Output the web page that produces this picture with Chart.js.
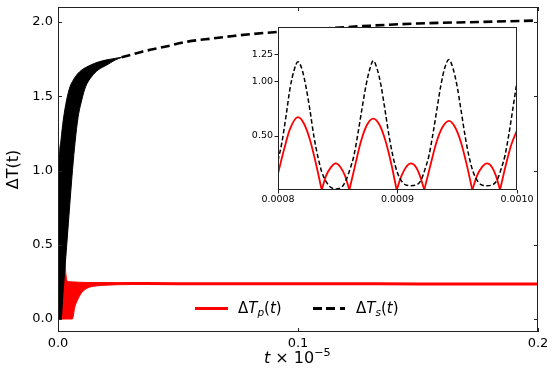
<!DOCTYPE html>
<html>
<head>
<meta charset="utf-8">
<script src="https://cdn.jsdelivr.net/npm/chart.js@4.4.1/dist/chart.umd.min.js"></script>
<style>
    html, body { margin: 0; padding: 0; background: #fff; }
    #wrap { position: relative; width: 556px; height: 379px; font-family: 'DejaVu Sans', sans-serif; color: #000; }
    #main { position: absolute; left: 0; top: 0; }
    #insetBox { position: absolute; left: 230px; top: 17px; width: 320px; height: 195px; }
    .txt { position: absolute; white-space: nowrap; line-height: 18px; }
    .lg { font-size: 15px; top: 299px; }
    .lg sub { font-size: 0.7em; vertical-align: -0.3em; line-height: 0; }
    .xt { font-size: 16px; left: 264px; top: 349px; }
    .xt sup { font-size: 0.7em; vertical-align: 0.6em; line-height: 0; }
    .swatch { position: absolute; top: 307px; height: 3px; }
</style>
</head>
<body>
<div id="wrap">
    <canvas id="main" width="556" height="379"></canvas>
    <div id="insetBox"><canvas id="inset" width="320" height="195"></canvas></div>

    <div class="swatch" style="left:195px;width:33px;background:#ff0000;"></div>
    <div class="txt lg" style="left:238px;">Δ<i>T</i><sub><i>p</i></sub>(<i>t</i>)</div>
    <div class="swatch" style="left:313px;width:32px;background:repeating-linear-gradient(to right,#000 0 9px,transparent 9px 13.5px);"></div>
    <div class="txt lg" style="left:356px;">Δ<i>T</i><sub><i>s</i></sub>(<i>t</i>)</div>

    <div class="txt xt"><i>t</i> × 10<sup>−5</sup></div>
</div>

<script>
    // ─── DATA ───
    const mainXTicks = [0, 0.1, 0.2];
    const mainYTicks = [0, 0.5, 1.0, 1.5, 2.0];
    const insetXTicks = [0.0008, 0.0009, 0.0010];
    const insetYTicks = [0.5, 1.0, 1.25];

    // ΔTs : fast oscillation band (upper / lower envelope), then the slow part
    const sBandT = [0, 0.0004, 0.00125, 0.0022, 0.0036, 0.005, 0.0064, 0.0082, 0.0099, 0.0115, 0.014, 0.0167, 0.0203, 0.0238, 0.0265];
    const sBandUpper = [0, 0.94, 1.205, 1.34, 1.475, 1.564, 1.61, 1.652, 1.677, 1.693, 1.713, 1.73, 1.745, 1.755, 1.762];
    const sBandLower = [0, 0, 0, 0.2, 0.49, 0.79, 1.07, 1.34, 1.475, 1.564, 1.632, 1.677, 1.71, 1.744, 1.762];
    const sTailT = [0.0265, 0.035, 0.045, 0.054, 0.065, 0.073, 0.0925, 0.11, 0.13, 0.15, 0.175, 0.2];
    const sTail = [1.762, 1.80, 1.835, 1.868, 1.89, 1.906, 1.935, 1.955, 1.975, 1.99, 2.0, 2.01];

    // ΔTp : band, then flat part
    const pBandT = [0, 0.0006, 0.001, 0.0025, 0.0033, 0.004, 0.006, 0.007, 0.0085, 0.01, 0.0125, 0.0155, 0.02, 0.025, 0.03];
    const pBandUpper = [0, 0.55, 0.67, 0.45, 0.3, 0.252, 0.25, 0.249, 0.248, 0.247, 0.246, 0.246, 0.245, 0.245, 0.245];
    const pBandLower = [0, 0, 0, 0, 0, 0, 0, 0.08, 0.14, 0.18, 0.21, 0.222, 0.228, 0.231, 0.232];
    const pTailT = [0.03, 0.05, 0.1, 0.15, 0.2];
    const pTail = [0.2385, 0.238, 0.237, 0.2365, 0.236];

    // inset (zoom on 0.0008 .. 0.0010)
    const insetST = [0.000800, 0.0008033, 0.0008067, 0.0008100, 0.0008134, 0.0008167, 0.0008201, 0.0008234, 0.0008268, 0.0008301,
        0.0008335, 0.0008368, 0.0008402, 0.0008435, 0.0008485, 0.0008536, 0.0008569, 0.0008602, 0.0008636, 0.0008669,
        0.0008703, 0.0008736, 0.0008770, 0.0008797, 0.0008828, 0.0008862, 0.0008895, 0.0008929, 0.0008962, 0.0008996,
        0.0009029, 0.0009063, 0.0009113, 0.0009163, 0.0009197, 0.0009230, 0.0009264, 0.0009297, 0.0009331, 0.0009364,
        0.0009397, 0.0009431, 0.0009464, 0.0009498, 0.0009531, 0.0009565, 0.0009598, 0.0009632, 0.0009665, 0.0009699,
        0.0009749, 0.0009799, 0.0009833, 0.0009866, 0.0009900, 0.0009933, 0.0009967, 0.0010000];
    const insetS = [0.27, 0.44, 0.68, 0.93, 1.10, 1.18, 1.11, 0.95, 0.73, 0.49,
        0.30, 0.16, 0.08, 0.03, 0.01, 0.03, 0.09, 0.19, 0.32, 0.52,
        0.75, 0.96, 1.12, 1.19, 1.12, 0.96, 0.74, 0.50, 0.31, 0.17,
        0.09, 0.05, 0.04, 0.05, 0.09, 0.19, 0.32, 0.52, 0.75, 0.97,
        1.13, 1.20, 1.12, 0.96, 0.74, 0.50, 0.31, 0.17, 0.09, 0.05,
        0.04, 0.05, 0.09, 0.19, 0.32, 0.52, 0.76, 1.00];
    const insetPT = [0.000800, 0.0008050, 0.0008100, 0.0008167, 0.0008218, 0.0008268, 0.0008318, 0.0008366, 0.0008402, 0.0008444,
        0.0008483, 0.0008523, 0.0008561, 0.0008597, 0.0008644, 0.0008695, 0.0008745, 0.0008797, 0.0008849, 0.0008900,
        0.0008950, 0.0008993, 0.0009033, 0.0009071, 0.0009113, 0.0009155, 0.0009188, 0.0009224, 0.0009276, 0.0009326,
        0.0009377, 0.0009431, 0.0009481, 0.0009531, 0.0009582, 0.0009626, 0.0009665, 0.0009707, 0.0009749, 0.0009791,
        0.0009824, 0.0009858, 0.0009900, 0.0009950, 0.0010000];
    const insetP = [0.15, 0.37, 0.56, 0.67, 0.61, 0.46, 0.24, 0, 0.13, 0.21,
        0.245, 0.21, 0.13, 0, 0.22, 0.45, 0.60, 0.656, 0.60, 0.45,
        0.23, 0, 0.13, 0.21, 0.245, 0.21, 0.13, 0, 0.23, 0.44,
        0.58, 0.637, 0.58, 0.44, 0.22, 0, 0.13, 0.21, 0.245, 0.21,
        0.13, 0, 0.20, 0.41, 0.55];

    // ─── HELPERS ───
    const FONT = "'DejaVu Sans', sans-serif";
    const RED = '#ff0000';
    const xy = (xs, ys) => xs.map((x, i) => ({ x: x, y: ys[i] }));

    // cut the rectified red curve at its zeros so every lobe ends in a sharp V
    function lobes(xs, ys) {
        const out = [];
        let cur = [];
        xs.forEach((x, i) => {
            cur.push({ x: x, y: ys[i] });
            if (ys[i] === 0 && cur.length > 1) {
                out.push(cur);
                cur = [{ x: x, y: 0 }];
            }
        });
        if (cur.length > 1) out.push(cur);
        return out;
    }

    const base = { pointRadius: 0, pointHoverRadius: 0, cubicInterpolationMode: 'monotone', fill: false };

    // no automatic label padding, the layout padding decides
    const fitX = h => s => { s.height = h; s.paddingLeft = 0; s.paddingRight = 0; };
    const fitY = w => s => { s.width = w; s.paddingTop = 0; s.paddingBottom = 0; };

    // frame + tick marks
    const frameTicks = {
        id: 'frameTicks',
        afterDatasetsDraw(chart, args, o) {
            const { ctx, chartArea: a, scales } = chart;
            const s = o.dir === 'in' ? 1 : -1;
            ctx.save();
            ctx.strokeStyle = '#222';
            ctx.lineWidth = 1;
            ctx.strokeRect(a.left + 0.5, a.top + 0.5, a.right - a.left - 1, a.bottom - a.top - 1);
            ctx.beginPath();
            scales.x.ticks.forEach(t => {
                const px = Math.round(scales.x.getPixelForValue(t.value)) + 0.5;
                if (o.sides.includes('bottom')) { ctx.moveTo(px, a.bottom); ctx.lineTo(px, a.bottom - s * o.len); }
                if (o.sides.includes('top')) { ctx.moveTo(px, a.top); ctx.lineTo(px, a.top + s * o.len); }
            });
            scales.y.ticks.forEach(t => {
                const py = Math.round(scales.y.getPixelForValue(t.value)) + 0.5;
                if (o.sides.includes('left')) { ctx.moveTo(a.left, py); ctx.lineTo(a.left + s * o.len, py); }
                if (o.sides.includes('right')) { ctx.moveTo(a.right, py); ctx.lineTo(a.right - s * o.len, py); }
            });
            ctx.stroke();
            ctx.restore();
        }
    };

    const whiteArea = {
        id: 'whiteArea',
        beforeDraw(chart) {
            const { ctx, chartArea: a } = chart;
            ctx.save();
            ctx.fillStyle = '#fff';
            ctx.fillRect(a.left, a.top, a.right - a.left, a.bottom - a.top);
            ctx.restore();
        }
    };

    // ─── MAIN CHART ───
    new Chart(document.getElementById('main'), {
        type: 'line',
        data: {
            datasets: [
                { ...base, data: xy(pBandT, pBandUpper), borderColor: RED, backgroundColor: RED, borderWidth: 1, fill: '+1', order: 2 },
                { ...base, data: xy(pBandT, pBandLower), borderColor: RED, borderWidth: 1, order: 2 },
                { ...base, data: xy(pTailT, pTail), borderColor: RED, borderWidth: 3, order: 2 },
                { ...base, data: xy(sBandT, sBandUpper), borderColor: '#000', backgroundColor: '#000', borderWidth: 1, fill: '+1', order: 1 },
                { ...base, data: xy(sBandT, sBandLower), borderColor: '#000', borderWidth: 1, order: 1 },
                { ...base, data: xy(sTailT, sTail), borderColor: '#000', borderWidth: 2.6, borderDash: [9, 4.5], order: 1 },
            ]
        },
        options: {
            responsive: false,
            devicePixelRatio: 1,
            animation: false,
            events: [],
            layout: { padding: { top: 7, right: 18, left: 0, bottom: 0 } },
            plugins: { legend: { display: false }, tooltip: { enabled: false }, frameTicks: { dir: 'in', len: 4, sides: ['left', 'right', 'top', 'bottom'] } },
            scales: {
                x: {
                    type: 'linear', min: 0, max: 0.2,
                    grid: { display: false, drawTicks: false }, border: { display: false },
                    ticks: { padding: 4, color: '#000', maxRotation: 0, font: { family: FONT, size: 13 }, callback: v => v.toFixed(1) },
                    afterBuildTicks: s => { s.ticks = mainXTicks.map(v => ({ value: v })); },
                    afterFit: fitX(47)
                },
                y: {
                    type: 'linear', min: -0.0875, max: 2.101,
                    grid: { display: false, drawTicks: false }, border: { display: false },
                    ticks: { padding: 5, color: '#000', font: { family: FONT, size: 13 }, callback: v => v.toFixed(1) },
                    afterBuildTicks: s => { s.ticks = mainYTicks.map(v => ({ value: v })); },
                    afterFit: fitY(58),
                    title: { display: true, text: 'ΔT(t)', color: '#000', font: { family: FONT, size: 16 }, padding: { top: 4, bottom: 0 } }
                }
            }
        },
        plugins: [frameTicks]
    });

    // ─── INSET ───
    const redLobes = lobes(insetPT, insetP).map(seg => ({ ...base, data: seg, borderColor: RED, borderWidth: 1.8, order: 2 }));

    new Chart(document.getElementById('inset'), {
        type: 'line',
        data: {
            datasets: [
                ...redLobes,
                { ...base, data: xy(insetST, insetS), borderColor: '#000', borderWidth: 1.5, borderDash: [4.5, 2.5], order: 1 },
            ]
        },
        options: {
            responsive: false,
            devicePixelRatio: 1,
            animation: false,
            events: [],
            layout: { padding: { top: 10, right: 33, left: 0, bottom: 0 } },
            plugins: { legend: { display: false }, tooltip: { enabled: false }, frameTicks: { dir: 'out', len: 3.5, sides: ['left', 'bottom'] } },
            scales: {
                x: {
                    type: 'linear', min: 0.0008, max: 0.0010,
                    grid: { display: false, drawTicks: false }, border: { display: false },
                    ticks: { padding: 4, color: '#000', maxRotation: 0, font: { family: FONT, size: 9.5 }, callback: v => v.toFixed(4) },
                    afterBuildTicks: s => { s.ticks = insetXTicks.map(v => ({ value: v })); },
                    afterFit: fitX(22)
                },
                y: {
                    type: 'linear', min: 0, max: 1.5,
                    grid: { display: false, drawTicks: false }, border: { display: false },
                    ticks: { padding: 5, color: '#000', font: { family: FONT, size: 9.5 }, callback: v => v.toFixed(2) },
                    afterBuildTicks: s => { s.ticks = insetYTicks.map(v => ({ value: v })); },
                    afterFit: fitY(48)
                }
            }
        },
        plugins: [whiteArea, frameTicks]
    });
</script>
</body>
</html>
